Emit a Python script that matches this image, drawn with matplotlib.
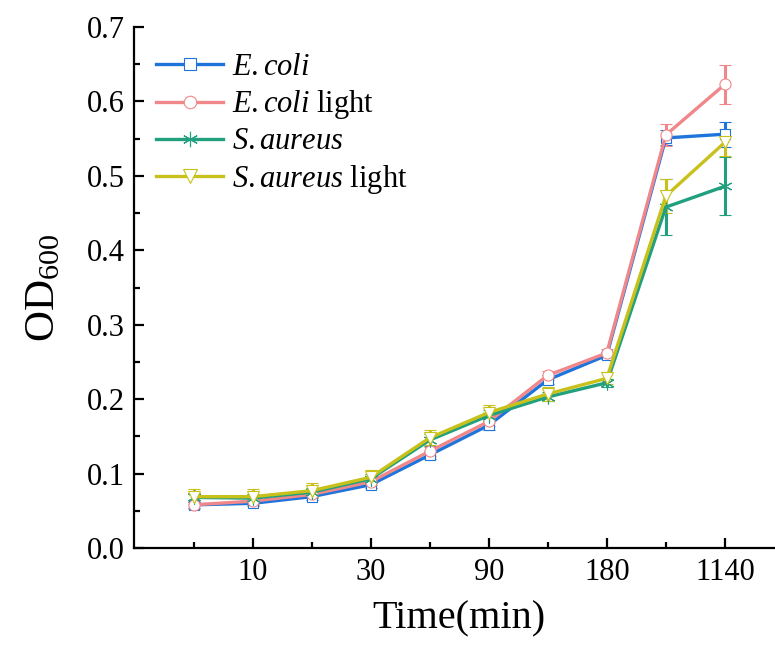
import matplotlib
matplotlib.use("Agg")
import matplotlib.pyplot as plt
from matplotlib.lines import Line2D
import numpy as np

plt.rcParams['font.family'] = ['Liberation Serif', 'DejaVu Serif']
plt.rcParams['mathtext.fontset'] = 'custom'
plt.rcParams['mathtext.rm'] = 'Liberation Serif'
plt.rcParams['mathtext.it'] = 'Liberation Serif:italic'

tick_labels = ['', '10', '', '30', '', '90', '', '180', '', '1140']

ecoli = [0.058, 0.060, 0.069, 0.085, 0.125, 0.165, 0.226, 0.259, 0.551, 0.556]
ecoli_err = [0.004, 0.004, 0.004, 0.004, 0.006, 0.006, 0.006, 0.005, 0.010, 0.017]
ecoli_light = [0.058, 0.063, 0.072, 0.089, 0.130, 0.170, 0.232, 0.262, 0.555, 0.623]
ecoli_light_err = [0.006, 0.005, 0.005, 0.005, 0.006, 0.006, 0.006, 0.006, 0.015, 0.026]
saureus = [0.068, 0.067, 0.075, 0.093, 0.145, 0.178, 0.203, 0.222, 0.458, 0.486]
saureus_err = [0.006, 0.006, 0.006, 0.006, 0.008, 0.007, 0.006, 0.005, 0.038, 0.039]
saureus_light = [0.069, 0.069, 0.077, 0.095, 0.148, 0.182, 0.207, 0.228, 0.473, 0.545]
saureus_light_err = [0.010, 0.010, 0.010, 0.010, 0.010, 0.010, 0.010, 0.008, 0.023, 0.018]

series = [
    (ecoli, ecoli_err, r'$\it{E.coli}$', '#1F74DB', 's', 7),
    (ecoli_light, ecoli_light_err, r'$\it{E.coli}$ light', '#F0878A', 'o', 8),
    (saureus, saureus_err, r'$\it{S.aureus}$', '#21A07F', (6, 2, 0), 10),
    (saureus_light, saureus_light_err, r'$\it{S.aureus}$ light', '#C8C11B', 'v', 9),
]

fig = plt.figure(figsize=(7.75, 6.48), dpi=100)
ax = fig.add_axes([0.1735, 0.1543, 0.838, 0.804])

x = np.arange(len(tick_labels))
handles = []
for vals, err, lab, col, mk, ms in series:
    ax.errorbar(x, vals, yerr=err, color=col, lw=2.4, elinewidth=2.2,
                capsize=4, capthick=2.2, marker=mk, ms=ms,
                mfc='white', mec=col, mew=0.8)
    handles.append(Line2D([], [], color=col, lw=2.4, marker=mk, ms=ms + 1,
                          mfc='white', mec=col, mew=0.8, label=lab))

ax.set_xlim(-1, 10)
ax.set_ylim(0, 0.7)
ax.set_xticks(x[1::2])
ax.set_xticklabels([t for t in tick_labels[1::2]])
ax.set_xticks(x[0::2], minor=True)
ax.set_yticks(np.arange(0, 0.71, 0.1))
ax.set_yticks(np.arange(0.05, 0.7, 0.1), minor=True)
ax.yaxis.set_major_formatter(matplotlib.ticker.FormatStrFormatter('%.1f'))
ax.tick_params(which='major', direction='in', length=7, width=1.6, labelsize=22, pad=7)
ax.tick_params(which='minor', direction='in', length=4, width=1.6)
for s in ['top', 'right']:
    ax.spines[s].set_visible(False)
for s in ['left', 'bottom']:
    ax.spines[s].set_linewidth(1.6)

ax.set_xlabel('Time(min)', fontsize=29, labelpad=10)
ax.set_ylabel('OD$_{600}$', fontsize=31, labelpad=17)

ax.legend(handles=handles, loc='upper left', bbox_to_anchor=(0.005, 0.985), frameon=False,
          fontsize=22, handlelength=2.2, handletextpad=0.3, labelspacing=0.2,
          borderaxespad=0.2)

fig.savefig('out.png', dpi=100)
